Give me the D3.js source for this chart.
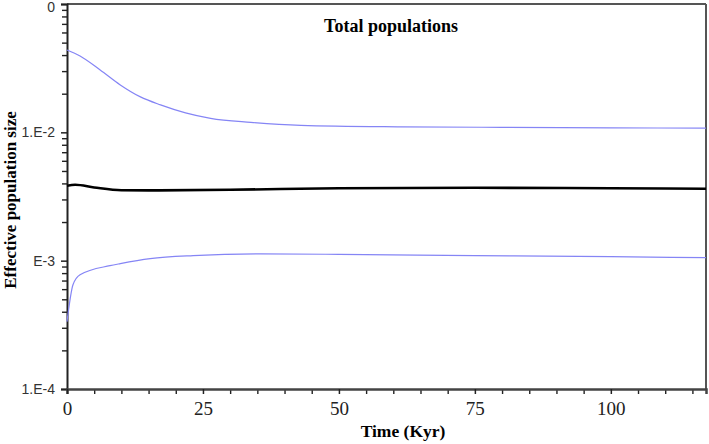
<!DOCTYPE html>
<html><head><meta charset="utf-8">
<script src="https://cdn.jsdelivr.net/npm/d3@7"></script>
<style>body{margin:0;background:#fff}svg{display:block}</style>
</head><body><svg id="c" width="709" height="444"></svg>
<script>
const timeUpper = [0, 2.4, 6.1, 9.8, 13.5, 17.2, 21.8, 26.4, 33.8, 43, 61.4, 79.9, 100, 117.5];
const upperValues = [0.04385, 0.03937, 0.03064, 0.02343, 0.01889, 0.01637, 0.01418, 0.01285, 0.01196, 0.01134, 0.01104, 0.01094, 0.01084, 0.01078];
const timeMedian = [0, 1.5, 5, 10, 15, 30, 50, 75, 100, 117.5];
const medianValues = [0.003835, 0.003903, 0.00372, 0.003537, 0.00353, 0.003568, 0.003666, 0.003699, 0.00367, 0.003634];
const timeLower = [0, 1.1, 2.4, 7.9, 9.8, 15.3, 23.2, 35.6, 50, 75, 100, 117.5];
const lowerValues = [0.000335, 0.00065, 0.000778, 0.000914, 0.000948, 0.001036, 0.001094, 0.001128, 0.00112, 0.001094, 0.001074, 0.001055];
const xTicks = [0, 25, 50, 75, 100];
const yTicks = [0.1, 0.01, 0.001, 0.0001];
const yTickLabels = ["0", "1.E-2", "E-3", "1.E-4"];

const svg = d3.select("#c");
const L = 67, R = 706, T = 4, B = 389;
const x = d3.scaleLinear().domain([0, 117.5]).range([L, R]);
const y = d3.scaleLog().domain([0.0001, 0.1]).range([B, T]);

// minor y ticks
const yMinor = [];
[0.0001, 0.001, 0.01].forEach(d => { for (let k = 2; k <= 9; k++) yMinor.push(d * k); });
svg.append("g").attr("transform", `translate(${L},0)`)
  .call(d3.axisLeft(y).tickValues(yMinor).tickSize(5).tickFormat(""))
  .call(g => g.select(".domain").remove())
  .call(g => g.selectAll("line").attr("stroke", "#222").attr("stroke-width", 1.4));
// minor x ticks
const xMinor = d3.range(5, 117.5, 5).filter(d => d % 25 !== 0);
svg.append("g").attr("transform", `translate(0,${B})`)
  .call(d3.axisBottom(x).tickValues(xMinor).tickSize(5).tickFormat(""))
  .call(g => g.select(".domain").remove())
  .call(g => g.selectAll("line").attr("stroke", "#222").attr("stroke-width", 1.4));

// frame top and right
svg.append("line").attr("x1", L).attr("x2", R).attr("y1", T).attr("y2", T).attr("stroke", "#555").attr("stroke-width", 2);
svg.append("line").attr("x1", R).attr("x2", R).attr("y1", T).attr("y2", B).attr("stroke", "#555").attr("stroke-width", 2);

// major y axis
svg.append("g").attr("transform", `translate(${L},0)`)
  .call(d3.axisLeft(y).tickValues(yTicks).tickSize(6).tickPadding(6).tickFormat((d, i) => yTickLabels[i]))
  .call(g => g.select(".domain").attr("stroke", "#222").attr("stroke-width", 2))
  .call(g => g.selectAll("line").attr("stroke", "#222").attr("stroke-width", 1.5))
  .call(g => g.selectAll("text").attr("font-family", "Liberation Sans, Arial, sans-serif").attr("font-size", 14).attr("fill", "#333"))
  .call(g => g.selectAll("text").filter((d, i) => i === 0).attr("dy", "0.55em"));
// major x axis
svg.append("g").attr("transform", `translate(0,${B})`)
  .call(d3.axisBottom(x).tickValues(xTicks).tickSize(5).tickPadding(8).tickFormat(d3.format("d")))
  .call(g => g.select(".domain").attr("stroke", "#444").attr("stroke-width", 2.5))
  .call(g => g.selectAll("line").attr("stroke", "#222").attr("stroke-width", 1.5))
  .call(g => g.selectAll("text").attr("font-family", "Liberation Serif, Times New Roman, serif").attr("font-size", 19).attr("fill", "#222"));

const line = d3.line().x(d => x(d[0])).y(d => y(d[1])).curve(d3.curveMonotoneX);
svg.append("path").datum(timeUpper.map((t, i) => [t, upperValues[i]]))
  .attr("d", line).attr("fill", "none").attr("stroke", "#8585f5").attr("stroke-width", 1.2);
svg.append("path").datum(timeLower.map((t, i) => [t, lowerValues[i]]))
  .attr("d", line).attr("fill", "none").attr("stroke", "#8585f5").attr("stroke-width", 1.2);
svg.append("path").datum(timeMedian.map((t, i) => [t, medianValues[i]]))
  .attr("d", line).attr("fill", "none").attr("stroke", "#000").attr("stroke-width", 2.6);

svg.append("text").attr("x", 391).attr("y", 32).attr("text-anchor", "middle")
  .attr("font-family", "Liberation Serif, Times New Roman, serif").attr("font-weight", "bold").attr("font-size", 18)
  .text("Total populations");
svg.append("text").attr("x", 403).attr("y", 437).attr("text-anchor", "middle")
  .attr("font-family", "Liberation Serif, Times New Roman, serif").attr("font-weight", "bold").attr("font-size", 17.5)
  .text("Time (Kyr)");
svg.append("text").attr("transform", "translate(16,200) rotate(-90)").attr("text-anchor", "middle")
  .attr("font-family", "Liberation Serif, Times New Roman, serif").attr("font-weight", "bold").attr("font-size", 17)
  .text("Effective population size");
</script></body></html>
